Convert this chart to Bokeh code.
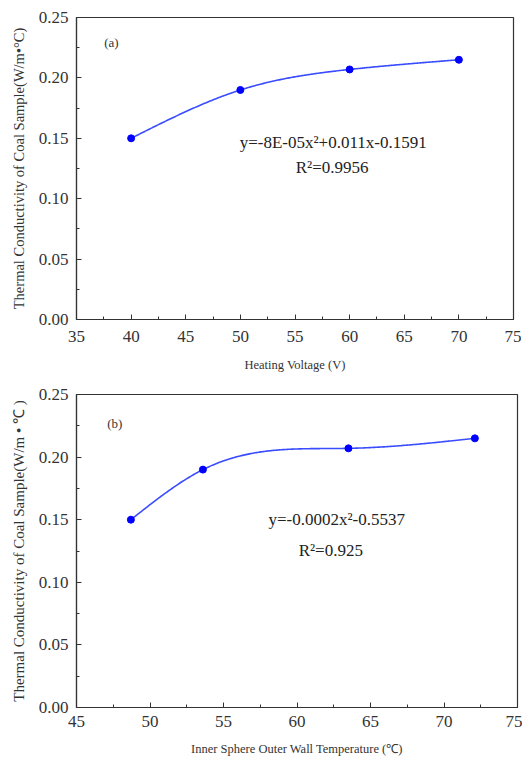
import numpy as np
from bokeh.plotting import figure
from bokeh.layouts import column
from bokeh.models import Range1d, Label, SingleIntervalTicker, NumeralTickFormatter
from bokeh.embed import file_html
from bokeh.resources import INLINE

# ---- data ----
voltage = [40, 50, 60, 70]
k_voltage = [0.150, 0.190, 0.207, 0.215]
wall_temp = [48.7, 53.6, 63.5, 72.1]
k_temp = [0.150, 0.190, 0.207, 0.215]

eq_a = "y=-8E-05x\u00b2+0.011x-0.1591"
r2_a = "R\u00b2=0.9956"
eq_b = "y=-0.0002x\u00b2-0.5537"
r2_b = "R\u00b2=0.925"

ylab_a = "Thermal Conductivity of Coal Sample(W/m\u2022\u00b0C)"
ylab_b = "Thermal Conductivity of Coal Sample(W/m \u2022 \u2103 )"
xlab_a = "Heating Voltage (V)"
xlab_b = "Inner Sphere Outer Wall Temperature (\u2103)"

SERIF = "Liberation Serif"
LINE = "#3a4cff"
DOT = "#0000ff"
AX = "#333333"


def natural_spline(x, y, n=300):
    x = np.asarray(x, float)
    y = np.asarray(y, float)
    m = len(x)
    h = np.diff(x)
    A = np.zeros((m, m))
    b = np.zeros(m)
    A[0, 0] = 1
    A[-1, -1] = 1
    for i in range(1, m - 1):
        A[i, i - 1] = h[i - 1]
        A[i, i] = 2 * (h[i - 1] + h[i])
        A[i, i + 1] = h[i]
        b[i] = 3 * ((y[i + 1] - y[i]) / h[i] - (y[i] - y[i - 1]) / h[i - 1])
    c = np.linalg.solve(A, b)
    xs = np.linspace(x[0], x[-1], n)
    idx = np.clip(np.searchsorted(x, xs) - 1, 0, m - 2)
    dx = xs - x[idx]
    bb = (y[1:] - y[:-1]) / h - h * (2 * c[:-1] + c[1:]) / 3
    d = (c[1:] - c[:-1]) / (3 * h)
    ys = y[idx] + bb[idx] * dx + c[idx] * dx ** 2 + d[idx] * dx ** 3
    return xs, ys


def make(xs, ys, xr, xlabel, ylabel, fw, fh, bl, bt, bb, br,
         tag, tag_xy, eq, eq_xy, r2, r2_xy, xlab_standoff, xtick_standoff,
         ylab_size):
    p = figure(frame_width=fw, frame_height=fh, output_backend="svg",
               toolbar_location=None, x_range=Range1d(*xr),
               y_range=Range1d(0, 0.25),
               min_border_left=bl, min_border_top=bt,
               min_border_bottom=bb, min_border_right=br)
    p.xgrid.visible = False
    p.ygrid.visible = False
    p.outline_line_color = AX
    p.outline_line_width = 1.2
    p.background_fill_color = "white"
    p.border_fill_color = "white"

    p.xaxis.ticker = SingleIntervalTicker(interval=5, num_minor_ticks=2)
    p.yaxis.ticker = SingleIntervalTicker(interval=0.05, num_minor_ticks=2)
    p.yaxis.formatter = NumeralTickFormatter(format="0.00")
    for ax in (p.xaxis[0], p.yaxis[0]):
        ax.axis_line_color = AX
        ax.axis_line_width = 1.2
        ax.major_tick_in = 5
        ax.major_tick_out = 0
        ax.minor_tick_in = 3
        ax.minor_tick_out = 0
        ax.major_tick_line_color = AX
        ax.minor_tick_line_color = AX
        ax.major_label_text_font = SERIF
        ax.major_label_text_font_size = "17px"
        ax.major_label_text_color = "#333333"
        ax.axis_label_text_font = SERIF
        ax.axis_label_text_font_style = "normal"
        ax.axis_label_text_color = "#333333"
    p.xaxis.axis_label = xlabel
    p.yaxis.axis_label = ylabel
    p.xaxis.axis_label_text_font_size = "12.5px"
    p.yaxis.axis_label_text_font_size = ylab_size
    p.xaxis.major_label_standoff = xtick_standoff
    p.yaxis.major_label_standoff = 8
    p.xaxis.axis_label_standoff = xlab_standoff
    p.yaxis.axis_label_standoff = 9

    cx, cy = natural_spline(xs, ys)
    p.line(cx, cy, line_color=LINE, line_width=1.6)
    p.scatter(xs, ys, size=7, marker="circle", fill_color=DOT, line_color=DOT)

    p.add_layout(Label(x=tag_xy[0], y=tag_xy[1], text=tag, text_font=SERIF,
                       text_font_size="13px", text_color="#333333",
                       text_align="center", text_baseline="middle"))
    p.add_layout(Label(x=eq_xy[0], y=eq_xy[1], text=eq, text_font=SERIF,
                       text_font_size="17px", text_color="#222222",
                       text_align="center", text_baseline="middle"))
    p.add_layout(Label(x=r2_xy[0], y=r2_xy[1], text=r2, text_font=SERIF,
                       text_font_size="17px", text_color="#222222",
                       text_align="center", text_baseline="middle"))
    return p


pa = make(voltage, k_voltage, (35, 75), xlab_a, ylab_a,
          fw=437, fh=302, bl=76, bt=17, bb=60, br=8,
          tag="(a)", tag_xy=(38.2, 0.229),
          eq=eq_a, eq_xy=(58.5, 0.1465), r2=r2_a, r2_xy=(58.4, 0.126),
          xlab_standoff=13, xtick_standoff=11, ylab_size="14.5px")

pb = make(wall_temp, k_temp, (45, 75), xlab_b, ylab_b,
          fw=441, fh=313, bl=75, bt=15, bb=50, br=6,
          tag="(b)", tag_xy=(47.6, 0.227),
          eq=eq_b, eq_xy=(62.7, 0.150), r2=r2_b, r2_xy=(62.3, 0.1254),
          xlab_standoff=12, xtick_standoff=8, ylab_size="15px")

layout = column(pa, pb, spacing=0)
open("out.html", "w").write(file_html(layout, INLINE))
